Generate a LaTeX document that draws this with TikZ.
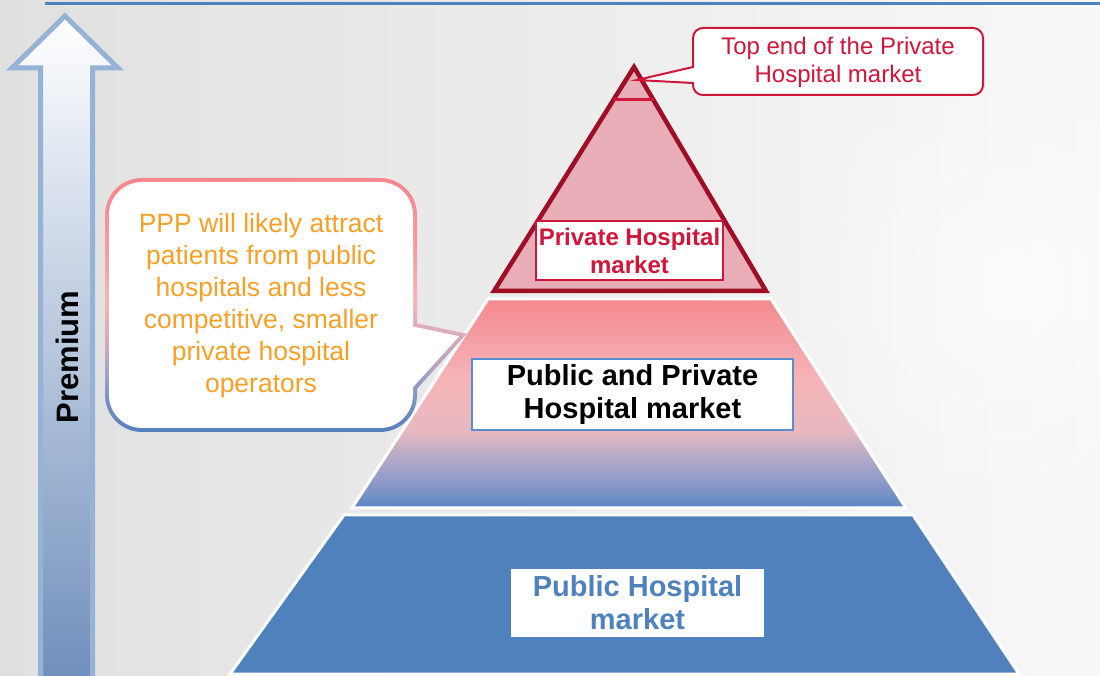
\documentclass[tikz,border=0pt]{standalone}
\usepackage{fontspec}
\setmainfont{Liberation Sans}
\usetikzlibrary{fadings}
\definecolor{bgL}{RGB}{224,224,224}
\definecolor{bgR}{RGB}{248,248,248}
\definecolor{topline}{RGB}{79,129,189}
\definecolor{arrowedge}{RGB}{149,179,215}
\definecolor{arrowbot}{RGB}{112,143,187}
\definecolor{crim}{RGB}{208,22,58}
\definecolor{darkred}{RGB}{158,14,38}
\definecolor{trifill}{RGB}{232,173,182}
\definecolor{pubblue}{RGB}{79,129,189}
\definecolor{boxblue}{RGB}{91,139,208}
\definecolor{orangetxt}{RGB}{245,160,40}
% middle band shading
\definecolor{mA}{RGB}{90,134,193}
\definecolor{mB}{RGB}{127,149,200}
\definecolor{mC}{RGB}{176,168,200}
\definecolor{mD}{RGB}{232,184,192}
\definecolor{mE}{RGB}{245,181,184}
\definecolor{mF}{RGB}{244,160,164}
\definecolor{mG}{RGB}{244,137,142}
\pgfdeclareverticalshading{midshade}{100bp}{color(0bp)=(mA); color(25bp)=(mA); color(29.3bp)=(mB);
  color(36.5bp)=(mC); color(43.5bp)=(mD); color(55.5bp)=(mE); color(65bp)=(mF); color(75bp)=(mG); color(100bp)=(mG)}
% callout border shading
\definecolor{cA}{RGB}{85,128,192}
\definecolor{cB}{RGB}{120,144,196}
\definecolor{cC}{RGB}{168,162,198}
\definecolor{cD}{RGB}{212,170,187}
\definecolor{cE}{RGB}{245,181,184}
\definecolor{cF}{RGB}{245,160,164}
\definecolor{cG}{RGB}{244,134,140}
\pgfdeclareverticalshading{calshade}{100bp}{color(0bp)=(cA); color(25bp)=(cA); color(31bp)=(cB);
  color(37bp)=(cC); color(43bp)=(cD); color(51bp)=(cE); color(59bp)=(cF); color(75bp)=(cG); color(100bp)=(cG)}
\tikzfading[name=softglow, inner color=transparent!35, outer color=transparent!100]
\tikzset{
  layer/.style={draw=white, line width=3pt, line join=miter},
  labelbox/.style={fill=white, inner sep=0pt, align=center},
}
\begin{document}
\begin{tikzpicture}[x=1pt,y=1pt]
\useasboundingbox (0,0) rectangle (1100,675);
% background
\shade[left color=bgL, right color=bgR] (0,0) rectangle (1100,675);
\fill[white, path fading=softglow] (1010,390) circle (230);
% top line
\draw[topline, line width=3pt] (45,671) -- (1100,671);
% premium arrow
\shade[top color=white, bottom color=arrowbot, draw=arrowedge, line width=5pt, line join=miter]
  (40.5,-5) -- (40.5,607) -- (12,607) -- (65,659) -- (118,607) -- (92.5,607) -- (92.5,-5) -- cycle;
\node[rotate=90, font=\fontsize{31}{36}\selectfont\bfseries] (premium) at (67,318) {Premium};
% pyramid
\fill[pubblue, layer] (230,1) -- (344,160) -- (913,160) -- (1019,1) -- cycle;
\shade[shading=midshade] (352,167) -- (488,376) -- (771,376) -- (906,167) -- cycle;
\draw[layer] (352,167) -- (488,376) -- (771,376) -- (906,167) -- cycle;
\filldraw[fill=trifill, draw=darkred, line width=4.5pt, line join=miter] (494,384) -- (634,608) -- (766,384) -- cycle;
\coordinate (tl) at (613.5,575);
\coordinate (tr) at (653.5,575);
\draw[crim, line width=3pt] (tl) -- (tr);
% boxes
\node[labelbox, draw=crim, line width=1.5pt, minimum width=187pt, minimum height=59pt,
  text=crim, font=\fontsize{24}{28}\selectfont\bfseries] (priv) at (629.5,424.5) {Private Hospital\\market};
\node[labelbox, draw=boxblue, line width=1.5pt, minimum width=321pt, minimum height=71pt,
  text=black, font=\fontsize{29}{33}\selectfont\bfseries] (pubpriv) at (632.5,280.5) {Public and Private\\Hospital market};
\node[labelbox, minimum width=253pt, minimum height=68pt,
  text=pubblue, font=\fontsize{29}{33}\selectfont\bfseries] (pub) at (637.5,72) {Public Hospital\\market};
% top callout
\filldraw[fill=white, draw=crim, line width=2pt, line join=miter]
  (703,647) -- (973,647) arc[start angle=90, end angle=0, radius=10] -- (983,590)
  arc[start angle=0, end angle=-90, radius=10] -- (703,580)
  arc[start angle=270, end angle=180, radius=10] -- (693,592) -- (637,595) -- (693,608) -- (693,637)
  arc[start angle=180, end angle=90, radius=10] -- cycle;
\node[text=crim, align=center, font=\fontsize{24}{28}\selectfont] (toptxt) at (838,613) {Top end of the Private\\Hospital market};
% big callout: shaded outer outline, white inner
\shade[shading=calshade]
  (142,497) -- (380,497) arc[start angle=90, end angle=0, radius=37] -- (417,351.6) -- (466.8,341.3) -- (417,286.2) -- (417,280)
  arc[start angle=0, end angle=-90, radius=37] -- (142,243)
  arc[start angle=270, end angle=180, radius=37] -- (105,460)
  arc[start angle=180, end angle=90, radius=37] -- cycle;
\fill[white]
  (142,493) -- (380,493) arc[start angle=90, end angle=0, radius=33] -- (413,348.4) -- (459.2,338.75) -- (413,287.8) -- (413,280)
  arc[start angle=0, end angle=-90, radius=33] -- (142,247)
  arc[start angle=270, end angle=180, radius=33] -- (109,460)
  arc[start angle=180, end angle=90, radius=33] -- cycle;
\node[text=orangetxt, align=center, font=\fontsize{26.5}{32}\selectfont] (ppp) at (261,369)
  {PPP will likely attract\\patients from public\\hospitals and less\\competitive, smaller\\private hospital\\operators};
\end{tikzpicture}
\end{document}
